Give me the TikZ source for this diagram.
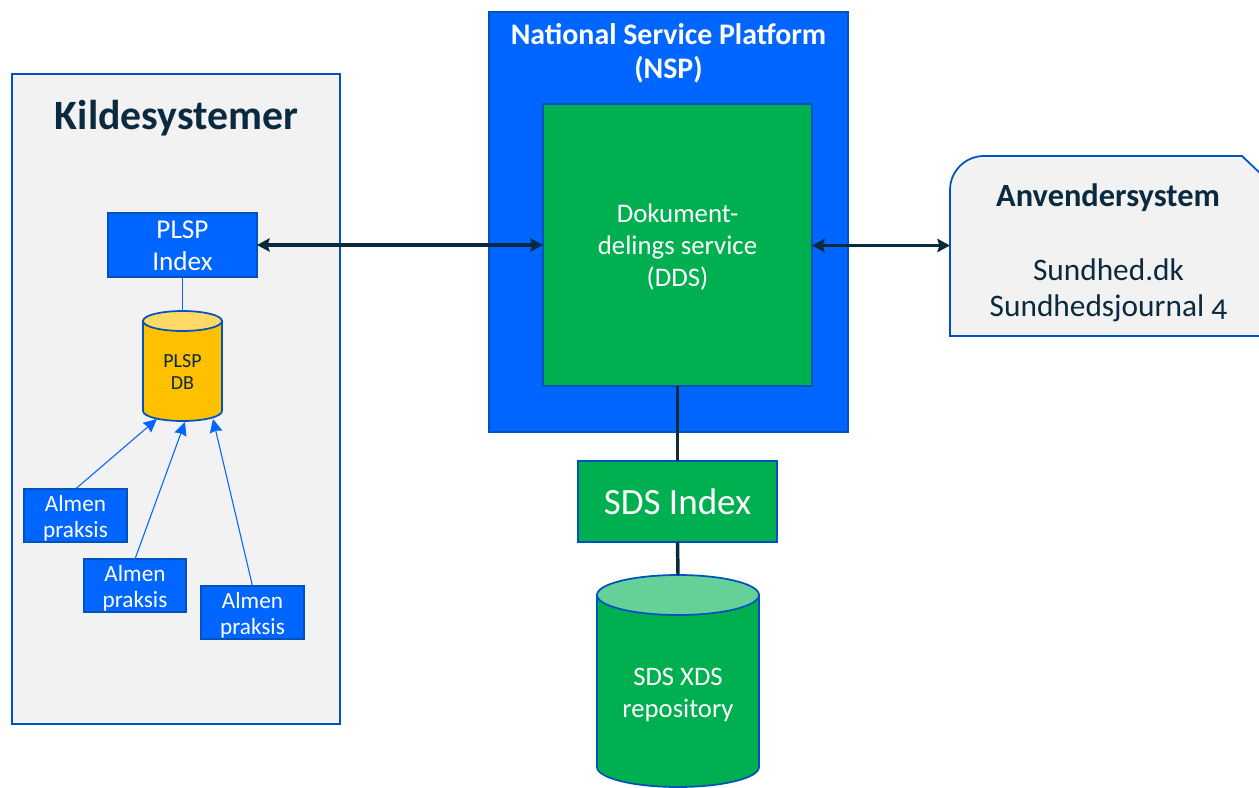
\documentclass[tikz,border=0pt]{standalone}
\usepackage{fontspec}
\setmainfont[Numbers=OldStyle]{Carlito}
\usetikzlibrary{arrows.meta}
\definecolor{nblue}{HTML}{0066FF}
\definecolor{eblue}{HTML}{0052BF}
\definecolor{ngreen}{HTML}{00B050}
\definecolor{lgreen}{HTML}{66D099}
\definecolor{nyellow}{HTML}{FFC000}
\definecolor{lyellow}{HTML}{FFD966}
\definecolor{ngrey}{HTML}{F2F2F2}
\definecolor{ndark}{HTML}{0B2A3F}
\newcommand{\fs}[2]{\fontsize{#1}{#2}\selectfont}
\tikzset{
  x=0.75pt,y=-0.75pt,
  panel/.style={draw=eblue,line width=1.4pt,fill=ngrey},
  box/.style={rectangle,draw=eblue,line width=1.3pt,inner sep=0pt,outer sep=0pt,align=center,anchor=north west},
  bluebox/.style={box,fill=nblue,text=white},
  greenbox/.style={box,fill=ngreen,text=white},
  almen/.style={bluebox,minimum width=77.25pt,minimum height=40pt},
  free/.style={rectangle,inner sep=0pt,outer sep=0pt,align=center},
  almentext/.style={free,text=white,font=\fs{17.4}{19.5}},
  darklink/.style={draw=ndark,line width=2.6pt},
  both/.style={darklink,{Stealth[length=9.5pt,width=10pt,inset=1.5pt]}-{Stealth[length=9.5pt,width=10pt,inset=1.5pt]}},
  feed/.style={draw=nblue,line width=0.8pt,-{Stealth[length=10pt,width=9.5pt,inset=1pt]}},
}
\begin{document}
\begin{tikzpicture}
\useasboundingbox (0,0) rectangle (1259,788);
% Kildesystemer
\node[box,panel,minimum width=246pt,minimum height=487.5pt] (kilde) at (12,74) {};
\node[free,text=ndark,font=\fs{31.3}{36}\bfseries] (kt) at (176.5,118) {Kildesystemer};
% NSP
\node[box,fill=nblue,minimum width=269.25pt,minimum height=315pt] (nsp) at (489,12) {};
\node[free,text=white,font=\fs{22.4}{25.5}\bfseries] (nspt) at (668.5,53) {National Service Platform\\(NSP)};
\node[greenbox,minimum width=201.75pt,minimum height=211.5pt] (dds) at (543,104) {};
\node[free,text=white,font=\fs{20.1}{24}] (ddst) at (677.5,247) {Dokument-\\delings service\\(DDS)};
% Anvendersystem
\begin{scope}
\clip (0,0) rectangle (1259,788);
\draw[draw=eblue,line width=1.3pt,fill=ngrey] (950,336) -- (950,190) arc[start angle=180,end angle=270,radius=34] -- (1242,156) -- (1262,175) -- (1262,336) -- cycle;
\end{scope}
\coordinate (anv) at (950,245.5);
\node[free,text=ndark,font=\fs{24.3}{28}\bfseries] (anvt) at (1108,198) {Anvendersystem};
\node[free,text=ndark,font=\fs{23.5}{27}] (anvb) at (1108.5,290.5) {Sundhed.dk\\Sundhedsjournal 4};
% PLSP index
\node[bluebox,minimum width=111.75pt,minimum height=48pt] (plsp) at (108,213) {};
\node[free,text=white,font=\fs{20.4}{24}] (plspt) at (182.5,246) {PLSP\\Index};
% PLSP DB
\draw[draw=eblue,line width=1.3pt,fill=nyellow] (143,321) -- (143,411) arc[start angle=180,end angle=0,x radius=39.5,y radius=10] -- (222,321) -- cycle;
\draw[draw=eblue,line width=1.3pt,fill=lyellow] (182.5,321) ellipse[x radius=39.5,y radius=10];
\node[free,text=ndark,font=\fs{15}{17}] (dbt) at (182.5,372) {PLSP\\DB};
\coordinate (dbtop) at (182.5,311);
\coordinate (dba) at (157,419);
\coordinate (dbb) at (185,422);
\coordinate (dbc) at (213,419);
% Almen praksis
\node[almen] (a1) at (24,489) {};
\node[almen,minimum width=76.5pt] (a2) at (84,559) {};
\node[almen] (a3) at (201,586) {};
\node[almentext] (a1t) at (75.5,518) {Almen\\praksis};
\node[almentext] (a2t) at (135,588) {Almen\\praksis};
\node[almentext] (a3t) at (252.5,615) {Almen\\praksis};
\draw[draw=nblue,line width=0.8pt] (plsp.south) -- (dbtop);
\draw[feed] (a1.north) -- (dba);
\draw[feed] (a2.north) -- (dbb);
\draw[feed] (a3.north) -- (dbc);
% SDS
\node[greenbox,minimum width=149.25pt,minimum height=60.75pt,font=\fs{27.8}{30}] (sds) at (578,461) {SDS Index};
\draw[draw=eblue,line width=1.3pt,fill=ngreen] (597,595) -- (597,767) arc[start angle=180,end angle=0,x radius=81,y radius=20] -- (759,595) -- cycle;
\draw[draw=eblue,line width=1.3pt,fill=lgreen] (678,595) ellipse[x radius=81,y radius=20];
\node[free,text=white,font=\fs{20}{24}] (xds) at (678,695) {SDS XDS\\repository};
\coordinate (xdstop) at (678,575);
% dark connectors
\draw[both] (plsp.east) -- (dds.west |- plsp.east);
\draw[both] (dds.east |- anv) -- (anv);
\draw[darklink] (dds.south) -- (sds.north);
\draw[darklink] (sds.south) -- (xdstop);
\end{tikzpicture}
\end{document}
